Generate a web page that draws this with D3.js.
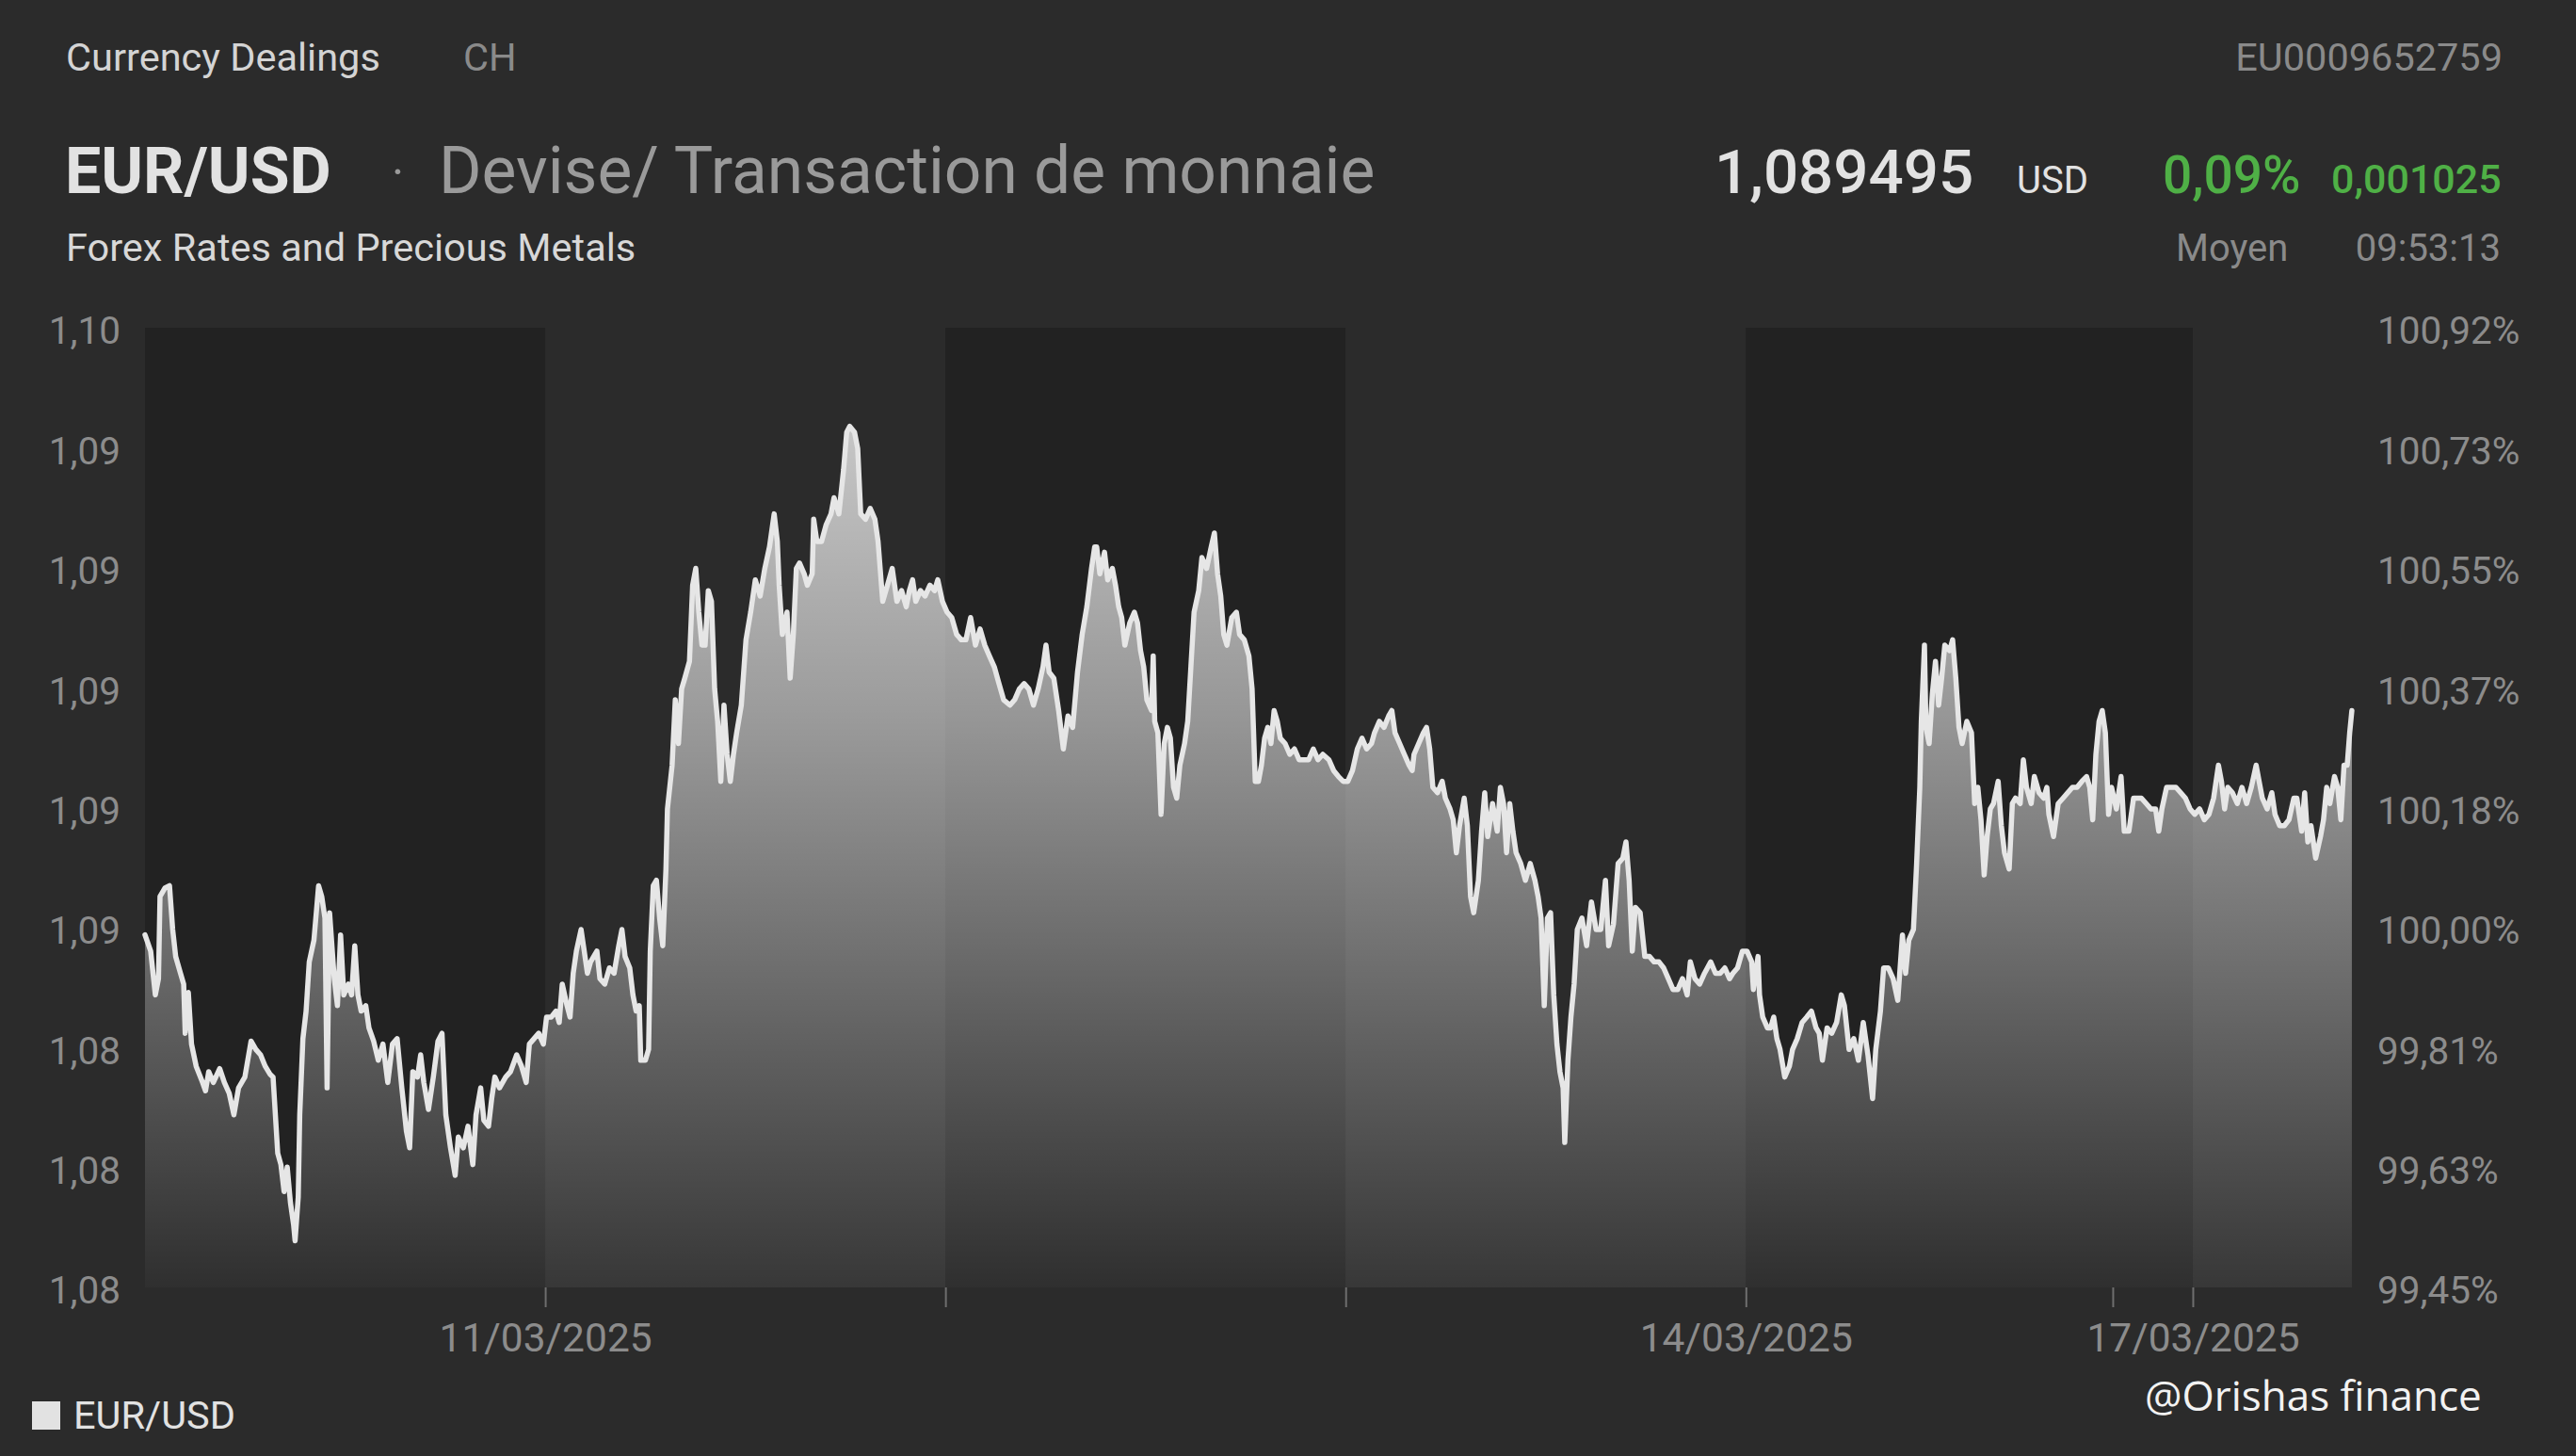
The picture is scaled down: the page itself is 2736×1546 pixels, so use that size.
<!DOCTYPE html>
<html><head><meta charset="utf-8">
<script src="https://cdn.jsdelivr.net/npm/d3@7"></script>
<style>html,body{margin:0;padding:0;background:#2b2b2b;overflow:hidden}</style>
</head><body><svg id="c"></svg>
<script>
// ---- data ----
const yTickValues = [1.0798,1.0818,1.0838,1.0858,1.0878,1.0898,1.0918,1.0938,1.0958];
const leftTickLabels = ["1,08","1,08","1,08","1,09","1,09","1,09","1,09","1,09","1,10"];
const rightTickLabels = ["99,45%","99,63%","99,81%","100,00%","100,18%","100,37%","100,55%","100,73%","100,92%"];
const xTickHours = [24,48,72,96,118,122.8];
const xTickLabels = ["11/03/2025","","","14/03/2025","","17/03/2025"];
const sessionEdges = [0,24,48,72,96,122.8,132.4];
// [trading hours since 10/03 00:00, EUR/USD]
const eurUsdPoints = [
[0,1.08574],[0.34,1.08547],[0.62,1.08474],[0.81,1.08501],[0.90,1.08638],[1.19,1.08652],[1.47,1.08656],[1.66,1.08583],[1.84,1.08538],[2.13,1.08510],[2.32,1.08492],[2.41,1.08410],[2.60,1.08478],[2.79,1.08392],[3.07,1.08355],[3.45,1.08328],[3.63,1.08314],[3.82,1.08346],[4.10,1.08328],[4.48,1.08351],[4.76,1.08328],[5.05,1.08310],[5.33,1.08274],[5.61,1.08319],[5.99,1.08337],[6.36,1.08397],[6.65,1.08383],[6.93,1.08374],[7.21,1.08355],[7.49,1.08342],[7.68,1.08337],[7.96,1.08210],[8.15,1.08191],[8.34,1.08146],[8.53,1.08187],[8.72,1.08128],[8.91,1.08091],[9.00,1.08064],[9.19,1.08137],[9.28,1.08274],[9.47,1.08401],[9.66,1.08447],[9.85,1.08529],[10.13,1.08565],[10.41,1.08656],[10.60,1.08638],[10.79,1.08602],[10.92,1.08319],[11.07,1.08611],[11.35,1.08501],[11.54,1.08456],[11.73,1.08574],[11.92,1.08474],[12.20,1.08492],[12.39,1.08474],[12.58,1.08556],[12.77,1.08474],[12.96,1.08447],[13.24,1.08456],[13.43,1.08419],[13.71,1.08397],[13.99,1.08365],[14.27,1.08392],[14.56,1.08328],[14.84,1.08392],[15.12,1.08401],[15.40,1.08319],[15.68,1.08246],[15.87,1.08219],[16.06,1.08346],[16.34,1.08337],[16.53,1.08374],[16.72,1.08328],[17.00,1.08283],[17.29,1.08337],[17.57,1.08397],[17.81,1.08410],[18.04,1.08274],[18.32,1.08219],[18.60,1.08173],[18.79,1.08237],
[19.09,1.08219],[19.37,1.08255],[19.66,1.08191],[19.85,1.08274],[20.13,1.08319],[20.32,1.08265],[20.60,1.08255],[20.79,1.08301],[20.98,1.08337],[21.26,1.08319],[21.63,1.08337],[21.92,1.08346],[22.29,1.08374],[22.58,1.08355],[22.86,1.08328],[23.05,1.08392],[23.33,1.08401],[23.61,1.08410],[23.89,1.08392],[24.08,1.08437],[24.36,1.08437],[24.65,1.08447],[24.84,1.08428],[25.02,1.08492],[25.31,1.08456],[25.49,1.08437],[25.68,1.08510],[25.87,1.08547],[26.15,1.08583],[26.34,1.08547],[26.53,1.08510],[26.72,1.08529],[27.10,1.08547],[27.28,1.08501],[27.57,1.08492],[27.85,1.08519],[28.13,1.08510],[28.41,1.08556],[28.60,1.08583],[28.79,1.08538],[29.07,1.08519],[29.26,1.08474],[29.45,1.08447],[29.64,1.08456],[29.73,1.08365],[30.01,1.08365],[30.20,1.08383],[30.30,1.08547],[30.48,1.08656],[30.67,1.08665],[30.86,1.08602],[31.05,1.08556],[31.24,1.08684],[31.33,1.08784],[31.61,1.08857],[31.80,1.08966],[31.99,1.08893],[32.18,1.08984],[32.37,1.09002],[32.65,1.09030],[32.84,1.09157],[33.03,1.09185],[33.21,1.09112],[33.40,1.09057],[33.59,1.09057],[33.78,1.09148],[33.97,1.09130],[34.16,1.08984],[34.34,1.08930],[34.53,1.08830],[34.72,1.08957],[34.91,1.08875],[35.10,1.08830],[35.29,1.08875],[35.48,1.08911],[35.76,1.08957],[36.04,1.09066],[36.32,1.09112],[36.60,1.09166],[36.89,1.09139],[37.17,1.09185],[37.45,1.09221],[37.73,1.09276],[37.92,1.09230],
[38.03,1.09157],[38.22,1.09075],[38.50,1.09112],[38.69,1.09002],[38.88,1.09075],[39.06,1.09185],[39.25,1.09194],[39.53,1.09176],[39.72,1.09157],[40.01,1.09176],[40.10,1.09267],[40.29,1.09230],[40.57,1.09230],[40.85,1.09258],[41.14,1.09276],[41.32,1.09303],[41.61,1.09276],[41.89,1.09349],[42.08,1.09412],[42.26,1.09422],[42.55,1.09412],[42.74,1.09385],[42.92,1.09276],[43.21,1.09267],[43.49,1.09285],[43.77,1.09267],[43.96,1.09230],[44.24,1.09130],[44.52,1.09157],[44.81,1.09185],[45.09,1.09130],[45.37,1.09148],[45.65,1.09121],[45.84,1.09148],[46.03,1.09166],[46.22,1.09130],[46.50,1.09148],[46.78,1.09139],[47.07,1.09157],[47.35,1.09148],[47.54,1.09166],[47.82,1.09130],[48.10,1.09112],[48.38,1.09103],[48.67,1.09075],[48.95,1.09066],[49.23,1.09066],[49.51,1.09103],[49.80,1.09057],[50.08,1.09084],[50.36,1.09057],[50.64,1.09039],[50.93,1.09021],[51.21,1.08993],[51.49,1.08966],[51.87,1.08957],[52.15,1.08966],[52.43,1.08984],[52.72,1.08993],[53.00,1.08984],[53.28,1.08957],[53.56,1.08984],[53.85,1.09021],[54.03,1.09057],[54.22,1.09012],[54.50,1.09002],[54.79,1.08948],[55.07,1.08884],[55.35,1.08939],[55.63,1.08920],[55.92,1.09012],[56.20,1.09075],[56.48,1.09121],[56.76,1.09185],[56.95,1.09221],
[57.07,1.09221],[57.26,1.09176],[57.54,1.09212],[57.73,1.09166],[58.01,1.09185],[58.20,1.09157],[58.39,1.09121],[58.57,1.09103],[58.76,1.09057],[59.05,1.09094],[59.33,1.09112],[59.52,1.09094],[59.70,1.09048],[59.89,1.09021],[60.08,1.08966],[60.36,1.08948],[60.46,1.09039],[60.55,1.08930],[60.74,1.08911],[60.93,1.08775],[61.12,1.08893],[61.31,1.08920],[61.49,1.08902],[61.68,1.08820],[61.87,1.08802],[62.06,1.08857],[62.34,1.08893],[62.53,1.08930],[62.72,1.09021],[62.91,1.09112],[63.19,1.09148],[63.38,1.09203],[63.66,1.09185],[63.94,1.09221],[64.13,1.09244],[64.32,1.09176],[64.51,1.09139],[64.69,1.09075],[64.88,1.09057],[65.17,1.09103],[65.45,1.09112],[65.64,1.09075],[65.92,1.09066],[66.20,1.09039],[66.39,1.08984],[66.58,1.08830],[66.77,1.08830],[66.95,1.08857],[67.14,1.08902],[67.33,1.08920],[67.52,1.08893],[67.71,1.08948],[67.90,1.08930],[68.08,1.08902],[68.37,1.08893],[68.65,1.08875],[68.93,1.08884],[69.21,1.08866],[69.50,1.08866],[69.78,1.08866],[70.06,1.08884],[70.34,1.08866],[70.63,1.08875],[71.00,1.08866],[71.28,1.08848],[71.57,1.08838],[71.85,1.08830],[72.13,1.08830],[72.41,1.08848],[72.70,1.08884],[72.98,1.08902],[73.26,1.08884],[73.55,1.08893],[73.73,1.08911],[74.02,1.08930],[74.30,1.08920],[74.58,1.08939],[74.77,1.08948],[74.96,1.08911],[75.24,1.08893],[75.52,1.08875],[75.80,1.08857],[75.99,1.08848],
[76.10,1.08875],[76.38,1.08893],[76.66,1.08911],[76.85,1.08920],[77.04,1.08884],[77.23,1.08820],[77.51,1.08811],[77.79,1.08830],[77.98,1.08802],[78.26,1.08784],[78.45,1.08766],[78.64,1.08711],[78.83,1.08756],[79.11,1.08802],[79.30,1.08756],[79.49,1.08638],[79.68,1.08611],[79.96,1.08665],[80.15,1.08747],[80.34,1.08811],[80.52,1.08738],[80.81,1.08793],[81.09,1.08747],[81.28,1.08820],[81.47,1.08793],[81.65,1.08711],[81.84,1.08793],[82.03,1.08747],[82.22,1.08711],[82.50,1.08693],[82.78,1.08665],[83.07,1.08693],[83.35,1.08665],[83.54,1.08638],[83.72,1.08602],[83.91,1.08456],[84.10,1.08602],[84.29,1.08611],[84.48,1.08474],[84.67,1.08392],[84.85,1.08346],[85.04,1.08319],[85.14,1.08228],[85.33,1.08365],[85.51,1.08437],[85.70,1.08492],[85.89,1.08583],[86.17,1.08602],[86.45,1.08556],[86.74,1.08629],[87.02,1.08583],[87.30,1.08583],[87.58,1.08665],[87.77,1.08556],[88.06,1.08592],[88.34,1.08693],[88.62,1.08702],[88.81,1.08729],[89.00,1.08665],[89.19,1.08547],[89.37,1.08620],[89.66,1.08611],[89.94,1.08538],[90.22,1.08538],[90.50,1.08529],[90.79,1.08529],[91.07,1.08519],[91.35,1.08501],[91.63,1.08483],[91.92,1.08483],[92.20,1.08501],[92.48,1.08474],[92.67,1.08529],[92.95,1.08501],[93.23,1.08492],[93.52,1.08510],[93.89,1.08529],[94.18,1.08510],[94.46,1.08510],[94.74,1.08519],[95.02,1.08501],
[95.22,1.08510],[95.50,1.08519],[95.79,1.08547],[96.07,1.08547],[96.35,1.08529],[96.45,1.08483],[96.73,1.08538],[96.82,1.08474],[97.01,1.08437],[97.29,1.08419],[97.48,1.08419],[97.67,1.08437],[97.86,1.08401],[98.05,1.08383],[98.33,1.08337],[98.61,1.08355],[98.80,1.08383],[99.08,1.08401],[99.37,1.08428],[99.65,1.08437],[99.93,1.08447],[100.21,1.08419],[100.40,1.08410],[100.59,1.08365],[100.87,1.08419],[101.15,1.08410],[101.44,1.08428],[101.72,1.08474],[101.91,1.08456],[102.19,1.08383],[102.47,1.08401],[102.75,1.08365],[103.04,1.08428],[103.32,1.08374],[103.60,1.08301],[103.79,1.08383],[104.07,1.08447],[104.26,1.08519],[104.54,1.08519],[104.83,1.08501],[105.11,1.08465],[105.39,1.08574],[105.58,1.08510],[105.77,1.08565],[106.05,1.08583],[106.24,1.08693],[106.43,1.08820],[106.52,1.08930],[106.71,1.09057],[106.80,1.08920],[106.99,1.08893],[107.18,1.08975],[107.37,1.09030],[107.56,1.08957],[107.74,1.09002],[107.93,1.09057],[108.22,1.09048],[108.40,1.09066],[108.59,1.09002],[108.78,1.08920],[108.97,1.08893],[109.25,1.08930],[109.53,1.08911],[109.72,1.08793],[109.91,1.08820],[110.10,1.08766],[110.29,1.08674],[110.47,1.08738],[110.66,1.08784],[110.85,1.08793],[111.13,1.08830],[111.32,1.08756],[111.51,1.08711],[111.79,1.08684],[111.98,1.08793],[112.17,1.08802],[112.45,1.08793],[112.64,1.08866],[112.83,1.08820],[113.11,1.08793],[113.30,1.08838],[113.58,1.08811],[113.86,1.08802],[114.05,1.08820],
[114.17,1.08775],[114.45,1.08738],[114.73,1.08793],[115.02,1.08802],[115.30,1.08811],[115.58,1.08820],[115.86,1.08820],[116.15,1.08830],[116.43,1.08838],[116.62,1.08820],[116.80,1.08766],[116.99,1.08875],[117.18,1.08930],[117.37,1.08948],[117.56,1.08911],[117.75,1.08775],[117.93,1.08820],[118.22,1.08784],[118.50,1.08838],[118.69,1.08747],[118.97,1.08747],[119.25,1.08802],[119.44,1.08802],[119.72,1.08802],[120.01,1.08793],[120.29,1.08784],[120.57,1.08784],[120.76,1.08747],[120.95,1.08784],[121.23,1.08820],[121.51,1.08820],[121.79,1.08820],[122.08,1.08811],[122.36,1.08802],[122.64,1.08784],[122.92,1.08775],[123.21,1.08784],[123.49,1.08766],[123.77,1.08775],[124.05,1.08802],[124.34,1.08857],[124.52,1.08830],[124.71,1.08784],[124.90,1.08820],[125.18,1.08811],[125.47,1.08793],[125.75,1.08820],[126.03,1.08793],[126.31,1.08820],[126.60,1.08857],[126.78,1.08830],[126.97,1.08802],[127.26,1.08784],[127.54,1.08811],[127.73,1.08775],[128.01,1.08756],[128.29,1.08756],[128.57,1.08766],[128.86,1.08802],[129.04,1.08802],[129.33,1.08747],[129.51,1.08811],[129.70,1.08729],[129.89,1.08756],[130.17,1.08702],[130.46,1.08738],[130.64,1.08766],[130.83,1.08820],[131.02,1.08793],[131.30,1.08838],[131.49,1.08820],[131.68,1.08766],[131.87,1.08857],[132.06,1.08857],[132.21,1.08911],[132.34,1.08948]
];

// ---- layout ----
const W = 2736, H = 1546;
const plot = {left:154, right:2499, top:352, bottom:1371};
const bandTop = 348, bandBottom = 1367;
const svg = d3.select("#c").attr("width", W).attr("height", H)
  .style("display","block").style("background","#2b2b2b");
svg.append("rect").attr("width",W).attr("height",H).attr("fill","#2b2b2b");

const x = d3.scaleLinear().domain([sessionEdges[0], sessionEdges[sessionEdges.length-1]]).range([plot.left, plot.right]);
const y = d3.scaleLinear().domain([yTickValues[0], yTickValues[yTickValues.length-1]]).range([plot.bottom, plot.top]);

// session bands
const bands = d3.pairs(sessionEdges).map((p,i)=>({a:p[0], b:p[1], dark: i%2===0}));
svg.append("g").selectAll("rect").data(bands).join("rect")
  .attr("x", d=>x(d.a)).attr("width", d=>x(d.b)-x(d.a))
  .attr("y", bandTop).attr("height", bandBottom-bandTop)
  .attr("fill", d=>d.dark ? "#222222" : "#2b2b2b");

// gradient
const defs = svg.append("defs");
const grad = defs.append("linearGradient").attr("id","ag")
  .attr("gradientUnits","userSpaceOnUse").attr("x1",0).attr("x2",0)
  .attr("y1",plot.top).attr("y2",bandBottom);
grad.append("stop").attr("offset","0").attr("stop-color","#ffffff").attr("stop-opacity",0.8);
grad.append("stop").attr("offset","0.4").attr("stop-color","#ffffff").attr("stop-opacity",0.53);
grad.append("stop").attr("offset","0.75").attr("stop-color","#ffffff").attr("stop-opacity",0.25);
grad.append("stop").attr("offset","1").attr("stop-color","#ffffff").attr("stop-opacity",0.06);

const area = d3.area().x(d=>x(d[0])).y0(bandBottom).y1(d=>y(d[1]));
svg.append("path").datum(eurUsdPoints).attr("d",area).attr("fill","url(#ag)");

const line = d3.line().x(d=>x(d[0])).y(d=>y(d[1]));
svg.append("path").datum(eurUsdPoints).attr("d",line)
  .attr("fill","none").attr("stroke","#e6e6e6").attr("stroke-width",5.5)
  .attr("stroke-linejoin","round").attr("stroke-linecap","round");

// axes
const FONT = "Roboto, 'Noto Sans', sans-serif";
const yl = svg.append("g").attr("transform",`translate(${plot.left-14},0)`)
  .call(d3.axisLeft(y).tickValues(yTickValues).tickSize(0).tickPadding(12)
    .tickFormat((d,i)=>leftTickLabels[i]));
const yr = svg.append("g").attr("transform",`translate(${plot.right+14},0)`)
  .call(d3.axisRight(y).tickValues(yTickValues).tickSize(0).tickPadding(12)
    .tickFormat((d,i)=>rightTickLabels[i]));
const xb = svg.append("g").attr("transform",`translate(0,${bandBottom})`)
  .call(d3.axisBottom(x).tickValues(xTickHours).tickSize(21).tickPadding(17)
    .tickFormat((d,i)=>xTickLabels[i]));
[yl,yr].forEach(g=>{
  g.select(".domain").remove();
  g.selectAll("text").attr("fill","#8c8c8c").style("font-family",FONT).style("font-size","40.5px");
});
xb.select(".domain").remove();
xb.selectAll("text").attr("fill","#8c8c8c").style("font-family",FONT).style("font-size","42.5px");
xb.selectAll("line").attr("stroke","#6e6e6e").attr("stroke-width",2);

// header texts
function txt(s, xp, yp, size, color, weight, anchor){
  return svg.append("text").attr("x",xp).attr("y",yp).text(s)
    .attr("fill",color).style("font-family",FONT).style("font-size",size+"px")
    .style("font-weight",weight||400).attr("text-anchor",anchor||"start");
}
txt("Currency Dealings", 70, 75, 41.5, "#d4d4d4");
txt("CH", 492, 75, 41.5, "#8a8a8a");
txt("EU0009652759", 2658, 75, 41.5, "#8a8a8a", 400, "end");
txt("EUR/USD", 69, 205, 68, "#e2e2e2", 700);
txt("·", 416, 200, 50, "#9a9a9a");
txt("Devise/ Transaction de monnaie", 466, 205, 69.5, "#9a9a9a");
txt("Forex Rates and Precious Metals", 70, 277, 41.5, "#d8d8d8");
txt("1,089495", 1821, 205, 65.5, "#e2e2e2", 500);
txt("USD", 2142, 205, 40, "#e2e2e2");
txt("0,09%", 2297, 205, 55, "#4fb046", 500);
txt("0,001025", 2476, 205, 43, "#4fb046", 500);
txt("Moyen", 2311, 277, 40, "#8a8a8a");
txt("09:53:13", 2656, 277, 40, "#8a8a8a", 400, "end");

// legend
svg.append("rect").attr("x",34).attr("y",1488).attr("width",30).attr("height",30).attr("fill","#e2e2e2");
txt("EUR/USD", 78, 1517, 41.5, "#e2e2e2");

// watermark
svg.append("text").attr("x",2278).attr("y",1498).text("@Orishas finance")
  .attr("fill","#f2f2f2").style("font-family","'Open Sans', 'Noto Sans', sans-serif").style("font-size","44px");
</script></body></html>
